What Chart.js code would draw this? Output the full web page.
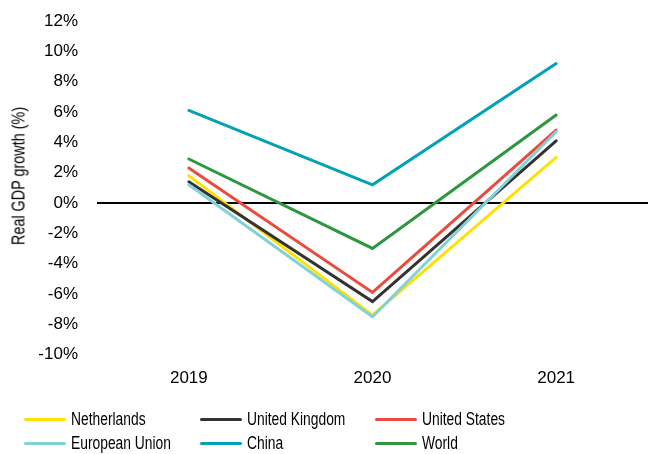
<!DOCTYPE html>
<html>
<head>
<meta charset="utf-8">
<script src="https://cdn.jsdelivr.net/npm/chart.js@4/dist/chart.umd.min.js"></script>
<style>
  html, body { margin: 0; padding: 0; background: #fff; }
  #wrap { position: relative; width: 648px; height: 454px; font-family: "Liberation Sans", Arial, sans-serif; overflow: hidden; }
  #box { position: absolute; left: 0; top: 0; width: 648px; height: 411px; }
  #ytitle { position: absolute; left: 19px; top: 176px; font-size: 18px; color: #000; white-space: nowrap;
            transform: translate(-50%, -50%) rotate(-90deg) scaleX(0.8); }
  #legend { position: absolute; left: 0; top: 407px; width: 648px; }
  .item { position: absolute; height: 24px; display: flex; align-items: center; font-size: 17.5px; color: #000; white-space: nowrap; }
  .item span.swatch { display: inline-block; width: 42px; height: 3px; margin-right: 5px; border-radius: 2px; }
  .item span.txt { display: inline-block; transform: scaleX(0.79); transform-origin: left center; }
</style>
</head>
<body>
<div id="wrap">
  <div id="box"><canvas id="gdpChart"></canvas></div>
  <div id="ytitle">Real GDP growth (%)</div>
  <div id="legend"></div>
</div>
<script>
// データ
const years = ['2019', '2020', '2021']
const netherlands = [1.8, -7.4, 3.0]
const unitedKingdom = [1.4, -6.5, 4.1]
const unitedStates = [2.3, -5.9, 4.8]
const europeanUnion = [1.2, -7.5, 4.7]
const china = [6.1, 1.2, 9.2]
const world = [2.9, -3.0, 5.8]

const seriesNames = ['Netherlands', 'United Kingdom', 'United States', 'European Union', 'China', 'World']
const seriesValues = [netherlands, unitedKingdom, unitedStates, europeanUnion, china, world]
const seriesColors = ['#FFE100', '#333333', '#EB4B3C', '#82D0D8', '#00A2B3', '#2E963E']

const yMin = -10
const yMax = 12
const yStep = 2

const fontFamily = '"Liberation Sans", Arial, sans-serif'

// 後の系列を上に描く
const datasets = seriesNames.map((name, i) => ({
    label: name,
    data: seriesValues[i],
    borderColor: seriesColors[i],
    backgroundColor: seriesColors[i],
    borderWidth: 3,
    borderCapStyle: 'round',
    pointRadius: 0,
    pointHoverRadius: 0,
    tension: 0,
    order: seriesNames.length - i
}))

const ctx = document.getElementById('gdpChart').getContext('2d')
const gdpChart = new Chart(ctx, {
    type: 'line',
    data: { labels: years, datasets: datasets },
    options: {
        responsive: true,
        maintainAspectRatio: false,
        animation: false,
        layout: { padding: { top: 21, right: 0, bottom: 8, left: 0 } },
        plugins: {
            legend: { display: false },
            tooltip: { enabled: false }
        },
        scales: {
            x: {
                type: 'category',
                offset: true,
                grid: { display: false, drawTicks: false },
                border: { display: false },
                ticks: { color: '#000', padding: 14, font: { family: fontFamily, size: 17 } }
            },
            y: {
                min: yMin,
                max: yMax,
                afterFit: scale => {
                    scale.width = 97
                    scale.paddingTop = 0
                    scale.paddingBottom = 0
                },
                border: { display: false },
                grid: {
                    drawTicks: false,
                    color: c => c.tick && c.tick.value === 0 ? '#000' : 'rgba(0,0,0,0)',
                    lineWidth: c => c.tick && c.tick.value === 0 ? 2 : 0
                },
                ticks: {
                    stepSize: yStep,
                    color: '#000',
                    padding: 19,
                    font: { family: fontFamily, size: 17 },
                    callback: v => v + '%'
                }
            }
        }
    }
})

// 凡例 (3列)
const legendEl = document.getElementById('legend')
const colX = [24, 200, 375]
seriesNames.forEach((name, i) => {
    const item = document.createElement('div')
    item.className = 'item'
    item.style.left = colX[i % 3] + 'px'
    item.style.top = (Math.floor(i / 3) * 24) + 'px'
    item.innerHTML = '<span class="swatch" style="background:' + seriesColors[i] + '"></span>'
    const txt = document.createElement('span')
    txt.className = 'txt'
    txt.textContent = name
    item.appendChild(txt)
    legendEl.appendChild(item)
})
</script>
</body>
</html>
